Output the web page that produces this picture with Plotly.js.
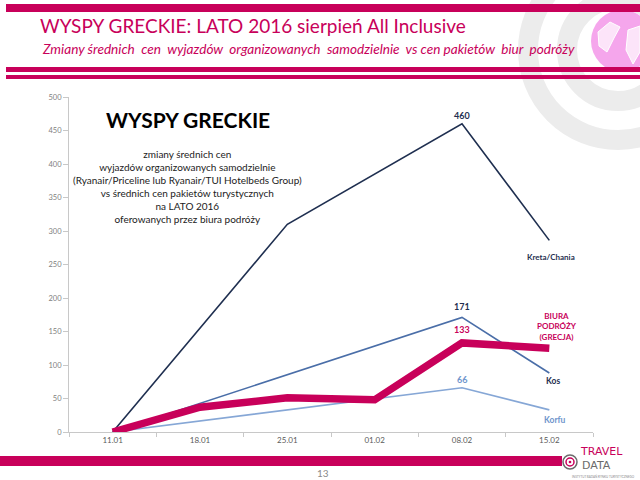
<!DOCTYPE html>
<html>
<head>
<meta charset="utf-8">
<script src="https://cdn.plot.ly/plotly-3.0.1.min.js"></script>
<style>
  html, body { margin: 0; padding: 0; background: #ffffff; }
  #chart { width: 640px; height: 480px; }
</style>
</head>
<body>
<div id="chart"></div>
<script>
// ---- data ----
const dates = ['11.01', '18.01', '25.01', '01.02', '08.02', '15.02'];
const kretaValues = [0, null, 310, null, 460, 286];
const kosValues = [0, null, null, null, 171, 88];
const korfuValues = [0, null, null, null, 66, 33];
const biuraValues = [0, 37, 51, 48, 133, 125];
const seriesNames = ['Kreta/Chania', 'Kos', 'Korfu', 'BIURA<br>PODRÓŻY<br>(GRECJA)'];
const peakLabels = ['460', '171', '66', '133'];
const yTicks = [0, 50, 100, 150, 200, 250, 300, 350, 400, 450, 500];

const titleText = 'WYSPY GRECKIE: LATO 2016 sierpień All Inclusive';
const subtitleText = 'Zmiany średnich  cen  wyjazdów  organizowanych  samodzielnie  vs cen pakietów  biur  podróży';
const boxTitle = 'WYSPY GRECKIE';
const boxLines = [
  'zmiany średnich cen',
  'wyjazdów organizowanych samodzielnie',
  '(Ryanair/Priceline lub Ryanair/TUI Hotelbeds Group)',
  'vs średnich cen pakietów turystycznych',
  'na LATO 2016',
  'oferowanych przez biura podróży'
];
const pageNumber = '13';
const logoTop = 'TRAVEL';
const logoBottom = 'DATA';
const logoSmall = 'INSTYTUT BADAŃ RYNKU TURYSTYCZNEGO';

// ---- styling ----
const PINK = '#c8005a';
const NAVY = '#1f2f50';
const KOS_BLUE = '#4a6ea8';
const KORFU_BLUE = '#86a7d6';
const KORFU_TEXT = '#6f95cc';
const FONT = 'Lato, "Open Sans", sans-serif';

const L = 69, R = 593, T = 97, B = 432;
const px = x => (x - L) / (R - L);
const py = y => (B - y) / (B - T);

const traces = [
  {x: dates, y: kretaValues, name: seriesNames[0], mode: 'lines', connectgaps: true,
   line: {color: NAVY, width: 1.6}},
  {x: dates, y: kosValues, name: seriesNames[1], mode: 'lines', connectgaps: true,
   line: {color: KOS_BLUE, width: 1.6}},
  {x: dates, y: korfuValues, name: seriesNames[2], mode: 'lines', connectgaps: true,
   line: {color: KORFU_BLUE, width: 1.6}},
  {x: dates, y: biuraValues, name: seriesNames[3], mode: 'lines', connectgaps: true,
   line: {color: PINK, width: 7.5}}
];

const last = dates.length - 1;
const peakIdx = 4;
const ann = [];
// peak labels (category axis positions are category indices)
ann.push({x: peakIdx, y: kretaValues[peakIdx], text: '<b>' + peakLabels[0] + '</b>', yshift: 8, font: {size: 9, color: NAVY}});
ann.push({x: peakIdx, y: kosValues[peakIdx], text: '<b>' + peakLabels[1] + '</b>', yshift: 11, font: {size: 9, color: NAVY}});
ann.push({x: peakIdx, y: korfuValues[peakIdx], text: '<b>' + peakLabels[2] + '</b>', yshift: 8, font: {size: 9, color: KORFU_TEXT}});
ann.push({x: peakIdx, y: biuraValues[peakIdx], text: '<b>' + peakLabels[3] + '</b>', yshift: 13, font: {size: 9, color: PINK}});
// series labels
ann.push({x: last, y: kretaValues[last], text: '<b>' + seriesNames[0] + '</b>', yshift: -17, xshift: 2, font: {size: 8, color: NAVY}});
ann.push({x: last, y: kosValues[last], text: '<b>' + seriesNames[1] + '</b>', yshift: -8, xshift: 4, font: {size: 8.5, color: NAVY}});
ann.push({x: last, y: korfuValues[last], text: '<b>' + seriesNames[2] + '</b>', yshift: -10, xshift: 6, font: {size: 8.5, color: KORFU_TEXT}});
ann.push({x: last, y: biuraValues[last], text: '<b>' + seriesNames[3] + '</b>', yshift: 22, xshift: 8, font: {size: 8, color: PINK}});
ann.forEach(a => { a.showarrow = false; a.xref = 'x'; a.yref = 'y'; a.xanchor = 'center'; a.yanchor = 'middle'; a.borderpad = 0; a.font.family = FONT; });

const paperAnn = [];
paperAnn.push({x: px(39), y: py(26), xanchor: 'left', yanchor: 'middle', text: titleText,
  font: {family: FONT, size: 19, color: PINK}});
paperAnn.push({x: px(41), y: py(49), xanchor: 'left', yanchor: 'middle', text: '<i>' + subtitleText + '</i>',
  font: {family: FONT, size: 13.6, color: PINK}});
paperAnn.push({x: px(187.5), y: py(119), xanchor: 'center', yanchor: 'middle', text: '<b>' + boxTitle + '</b>',
  font: {family: FONT, size: 21, color: '#000000'}});
paperAnn.push({x: px(187), y: py(186.5), xanchor: 'center', yanchor: 'middle', text: boxLines.join('<br>'),
  align: 'center', font: {family: FONT, size: 10, color: '#222222'}});
paperAnn.push({x: px(323), y: py(473), xanchor: 'center', yanchor: 'middle', text: pageNumber,
  font: {family: FONT, size: 10, color: '#8a8a8a'}});
// logo text
paperAnn.push({x: px(579), y: py(451.5), xanchor: 'left', yanchor: 'middle', text: logoTop,
  font: {family: '"DejaVu Sans", sans-serif', size: 11, color: PINK}});
paperAnn.push({x: px(581), y: py(465.5), xanchor: 'left', yanchor: 'middle', text: logoBottom,
  font: {family: '"DejaVu Sans", sans-serif', size: 11, color: '#6b6b6b'}});
paperAnn.push({x: px(603), y: py(476), xanchor: 'center', yanchor: 'middle', text: logoSmall,
  font: {family: FONT, size: 3, color: '#888888'}});
paperAnn.forEach(a => { a.showarrow = false; a.xref = 'paper'; a.yref = 'paper'; a.borderpad = 0; });

function rect(x0, y0, x1, y1, color, layer) {
  return {type: 'rect', xref: 'paper', yref: 'paper', x0: px(x0), x1: px(x1), y0: py(y0), y1: py(y1),
    fillcolor: color, line: {width: 0}, layer: layer || 'above'};
}
function circle(cx, cy, r, opts) {
  return Object.assign({type: 'circle', xref: 'paper', yref: 'paper',
    x0: px(cx - r), x1: px(cx + r), y0: py(cy + r), y1: py(cy - r), layer: 'below'}, opts);
}

const shapes = [
  // background rings
  circle(618, 50, 90, {line: {color: '#ececec', width: 20}}),
  circle(618, 50, 51, {line: {color: '#ececec', width: 20}}),
  // globe
  circle(622, 41, 31, {fillcolor: '#f5a6ec', line: {width: 0}}),
  // header bars
  rect(6, 4, 640, 12, PINK),
  rect(6, 67, 640, 72, PINK),
  rect(6, 75, 640, 79, PINK),
  // footer bar
  rect(0, 456, 562, 466, PINK),
  // logo circle
  circle(570, 462, 7, {line: {color: '#6b6b6b', width: 1.5}, layer: 'above'}),
  circle(570, 462, 4, {line: {color: PINK, width: 1.5}, layer: 'above'}),
  circle(570, 462, 1.3, {fillcolor: PINK, line: {width: 0}, layer: 'above'})
];
// globe continent hints
function poly(pts) {
  return 'M ' + pts.map(p => px(p[0]) + ' ' + py(p[1])).join(' L ') + ' Z';
}
shapes.push({type: 'path', xref: 'paper', yref: 'paper', layer: 'below',
  path: poly([[598, 32], [610, 22], [620, 27], [614, 38], [607, 52], [599, 46]]),
  fillcolor: 'rgba(255,255,255,0.7)', line: {color: '#ffffff', width: 1}});
shapes.push({type: 'path', xref: 'paper', yref: 'paper', layer: 'below',
  path: poly([[628, 30], [640, 26], [640, 52], [633, 64], [626, 50]]),
  fillcolor: 'rgba(255,255,255,0.7)', line: {color: '#ffffff', width: 1}});

const layout = {
  width: 640, height: 480, autosize: false,
  margin: {l: L, r: 640 - R, t: T, b: 480 - B, pad: 0},
  paper_bgcolor: '#ffffff', plot_bgcolor: 'rgba(0,0,0,0)',
  showlegend: false,
  font: {family: FONT},
  xaxis: {
    type: 'category', categoryorder: 'array', categoryarray: dates,
    range: [-0.5, dates.length - 0.5], fixedrange: true,
    showgrid: false, zeroline: false,
    showline: true, linecolor: '#c8c8c8', linewidth: 1,
    ticks: 'outside', tickson: 'boundaries', ticklen: 4, tickcolor: '#c8c8c8',
    tickfont: {family: FONT, size: 8, color: '#5a5a5a'}
  },
  yaxis: {
    range: [0, 500], tickvals: yTicks, ticktext: yTicks.map(String), fixedrange: true,
    showgrid: false, zeroline: false,
    showline: true, linecolor: '#c8c8c8', linewidth: 1,
    ticks: 'outside', ticklen: 5, tickcolor: '#c8c8c8',
    tickfont: {family: FONT, size: 7.5, color: '#808080'}
  },
  annotations: ann.concat(paperAnn),
  shapes: shapes
};

Plotly.newPlot('chart', traces, layout, {displayModeBar: false, staticPlot: true});
</script>
</body>
</html>
